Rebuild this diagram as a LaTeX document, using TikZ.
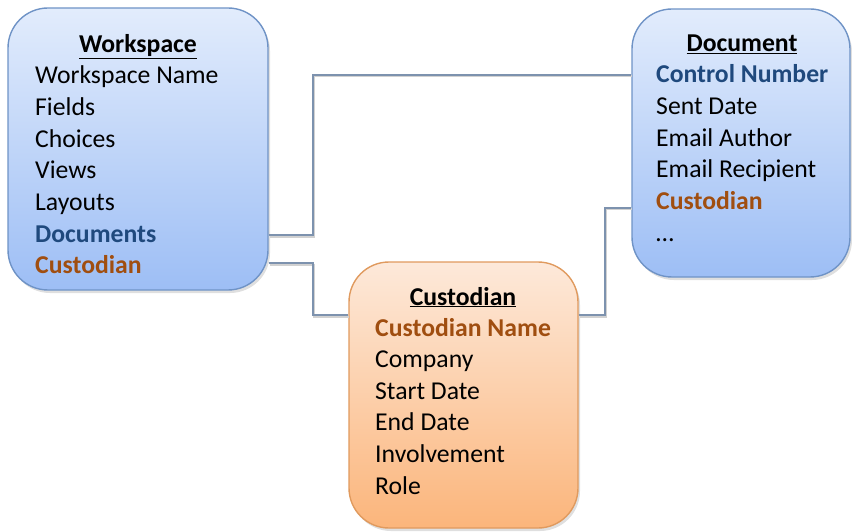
\documentclass[tikz,border=0pt]{standalone}
\usepackage{fontspec}
\setmainfont{Carlito}
\usetikzlibrary{shadows}

\definecolor{bluetop}{HTML}{E2ECFC}
\definecolor{bluebot}{HTML}{9DBEF5}
\definecolor{blueline}{HTML}{6F93C6}
\definecolor{orangetop}{HTML}{FDE9DA}
\definecolor{orangebot}{HTML}{FBB57B}
\definecolor{orangeline}{HTML}{E09A5E}
\definecolor{keyblue}{HTML}{1F497D}
\definecolor{keyorange}{HTML}{A04E10}
\definecolor{linkgray}{HTML}{7D92AE}

\newcommand{\fieldfont}{\fontsize{25.7}{31}\selectfont}

\tikzset{
  entity/.style={rounded corners=40pt, line width=1.4pt,
    drop shadow={opacity=0.25, shadow xshift=2pt, shadow yshift=-3pt}},
  blueentity/.style={entity, draw=blueline, top color=bluetop, bottom color=bluebot},
  orangeentity/.style={entity, draw=orangeline, top color=orangetop, bottom color=orangebot},
  field/.style={anchor=west, inner sep=0pt, text height=0.8em, text depth=0.2em, font=\fieldfont},
  plainfield/.style={field},
  bluefield/.style={field, text=keyblue, font=\fieldfont\bfseries},
  orangefield/.style={field, text=keyorange, font=\fieldfont\bfseries},
  heading/.style={inner sep=0pt, text height=0.8em, text depth=0.2em, font=\fieldfont\bfseries},
  link/.style={draw=linkgray, line width=1.8pt,
    preaction={draw=black!18, line width=2pt, transform canvas={shift={(1pt,-1.5pt)}}}}
}

\begin{document}
\begin{tikzpicture}[x=1pt, y=-1pt]
  \useasboundingbox (0,0) rectangle (852,532);

  % entity boxes
  \node[blueentity, minimum width=260pt, minimum height=282pt] (ws) at (138,149) {};
  \node[blueentity, minimum width=218pt, minimum height=268pt] (doc) at (741,143) {};
  \node[orangeentity, minimum width=229pt, minimum height=266pt] (cus) at (463.5,395) {};

  % Workspace
  \node[heading] (wstitle) at (138,50) {\underline{Workspace}};
  \foreach \txt/\sty [count=\i] in {Workspace Name/plainfield, Fields/plainfield,
      Choices/plainfield, Views/plainfield, Layouts/plainfield,
      Documents/bluefield, Custodian/orangefield}
    \node[\sty] (ws\i) at (35,{81+31.6*(\i-1)}) {\txt};

  % Document
  \node[heading] (doctitle) at (742,49) {\underline{Document}};
  \foreach \txt/\sty [count=\i] in {Control Number/bluefield, Sent Date/plainfield,
      Email Author/plainfield, Email Recipient/plainfield,
      Custodian/orangefield, \dots/plainfield}
    \node[\sty] (doc\i) at (656,{80+31.6*(\i-1)}) {\txt};

  % Custodian
  \node[heading] (custitle) at (463,302) {\underline{Custodian}};
  \foreach \txt/\sty [count=\i] in {Custodian Name/orangefield, Company/plainfield,
      Start Date/plainfield, End Date/plainfield, Involvement/plainfield,
      Role/plainfield}
    \node[\sty] (cus\i) at (375,{333+31.6*(\i-1)}) {\txt};

  % relations
  \coordinate (wsdocs) at ([yshift=4pt]ws.east |- ws6);
  \coordinate (wscus) at ([yshift=7.6pt]ws.east |- ws7);
  \coordinate (docctrl) at ([yshift=5pt]doc.west |- doc1);
  \coordinate (doccus) at ([yshift=-1.6pt]doc.west |- doc5);
  \coordinate (cusin) at ([yshift=18pt]cus.west |- cus1);
  \coordinate (cusout) at ([yshift=18pt]cus.east |- cus1);
  \draw[link] (wsdocs) -- ++(44,0) |- (docctrl);
  \draw[link] (wscus) -- ++(44,0) |- (cusin);
  \draw[link] (cusout) -- ++(26,0) |- (doccus);
\end{tikzpicture}
\end{document}
